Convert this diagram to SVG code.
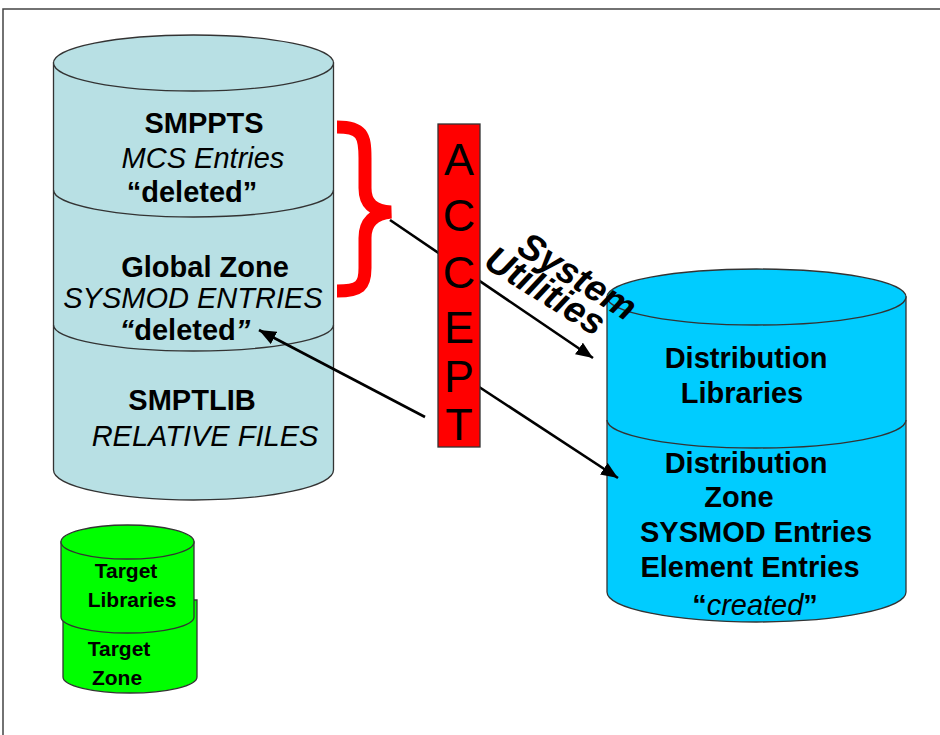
<svg xmlns="http://www.w3.org/2000/svg" width="940" height="735" viewBox="0 0 940 735">
<defs>
<marker id="ah" markerUnits="userSpaceOnUse" markerWidth="18" markerHeight="14" refX="17" refY="7" orient="auto"><path d="M0,0 L17,7 L0,14 Z" fill="#000"/></marker>
<style>
.t{font-family:"Liberation Sans",Arial,sans-serif;fill:#000;text-anchor:middle}
.b{font-weight:bold}
.i{font-style:italic}
.cyl{stroke:#333;stroke-width:1.3}
.div{fill:none;stroke:#333;stroke-width:1.3}
.con{stroke:#000;stroke-width:2.6;fill:none}
</style>
</defs>
<rect x="3" y="9" width="1000" height="1000" fill="#fff" stroke="#444" stroke-width="1.5"/>

<g id="smp-cylinder">
<path class="cyl" fill="#B8E0E4" d="M53.5,63 L53.5,470 A140,30 0 0 0 333.5,470 L333.5,63 Z"/>
<ellipse class="cyl" fill="#B8E0E4" cx="193.5" cy="63" rx="140" ry="28"/>
<path class="div" d="M53.5,190 A140,27 0 0 0 333.5,190"/>
<path class="div" d="M53.5,325 A140,26 0 0 0 333.5,325"/>
<text class="t b" x="204" y="133" font-size="29">SMPPTS</text>
<text class="t i" x="203" y="168" font-size="29">MCS Entries</text>
<text class="t b" x="192" y="202" font-size="29">“deleted”</text>
<text class="t b" x="205" y="277" font-size="29">Global Zone</text>
<text class="t i" x="193" y="308" font-size="29">SYSMOD ENTRIES</text>
<text class="t b" x="185" y="340" font-size="29"><tspan class="i">“</tspan>deleted<tspan class="i">”</tspan></text>
<text class="t b" x="192" y="410" font-size="29">SMPTLIB</text>
<text class="t i" x="205" y="446" font-size="29">RELATIVE FILES</text>
</g>

<g id="dist-cylinder">
<path class="cyl" fill="#00CCFF" d="M607,297 L607,592 A149.5,30 0 0 0 906,592 L906,297 Z"/>
<ellipse class="cyl" fill="#00CCFF" cx="756.5" cy="297" rx="149.5" ry="28"/>
<path class="div" d="M607,420 A149.5,28 0 0 0 906,420"/>
<text class="t b" x="746" y="368" font-size="29">Distribution</text>
<text class="t b" x="742" y="403" font-size="29">Libraries</text>
<text class="t b" x="746" y="473" font-size="29">Distribution</text>
<text class="t b" x="739" y="507" font-size="29">Zone</text>
<text class="t b" x="756" y="542" font-size="29">SYSMOD Entries</text>
<text class="t b" x="750" y="577" font-size="29">Element Entries</text>
<text class="t b" x="755" y="615" font-size="29">“<tspan class="i" font-weight="normal">created</tspan>”</text>
</g>

<g id="brace">
<path d="M337,127 C362,127 365,135 365,158 L365,188 C365,204 374,211 391,212 C374,214 365,222 365,238 L365,268 C365,286 360,291 337,291" fill="none" stroke="#FF0000" stroke-width="13"/>
</g>

<g id="connectors">
<line class="con" x1="390" y1="220" x2="593" y2="358" marker-end="url(#ah)"/>
<line class="con" x1="470" y1="381" x2="618" y2="478" marker-end="url(#ah)"/>
<line class="con" x1="425" y1="417" x2="259" y2="330" marker-end="url(#ah)"/>
</g>

<g id="accept">
<rect x="438" y="124" width="42" height="323" fill="#FF0000" stroke="#333" stroke-width="1.3"/>
<text class="t" x="459" y="175" font-size="45">A</text>
<text class="t" x="459" y="231" font-size="45">C</text>
<text class="t" x="459" y="288" font-size="45">C</text>
<text class="t" x="459" y="343" font-size="45">E</text>
<text class="t" x="459" y="392" font-size="45">P</text>
<text class="t" x="459" y="440" font-size="45">T</text>
</g>

<g id="system-utilities">
<text class="t b i" style="text-anchor:start" font-size="37" transform="translate(515,252) rotate(32)">System</text>
<text class="t b i" style="text-anchor:start" font-size="37" transform="translate(482,266) rotate(32)">Utilities</text>
</g>

<g id="target-zone">
<path class="cyl" fill="#00FF00" d="M63,600 L63,677 A67,16 0 0 0 197,677 L197,600 Z"/>
<text class="t b" x="119" y="656" font-size="21">Target</text>
<text class="t b" x="117" y="685" font-size="21">Zone</text>
</g>
<g id="target-libraries">
<path class="cyl" fill="#00FF00" d="M61,542 L61,617 A66.5,16 0 0 0 194,617 L194,542 Z"/>
<ellipse class="cyl" fill="#00FF00" cx="127.5" cy="542" rx="66.5" ry="17"/>
<text class="t b" x="126" y="578" font-size="21">Target</text>
<text class="t b" x="132" y="607" font-size="21">Libraries</text>
</g>
</svg>
